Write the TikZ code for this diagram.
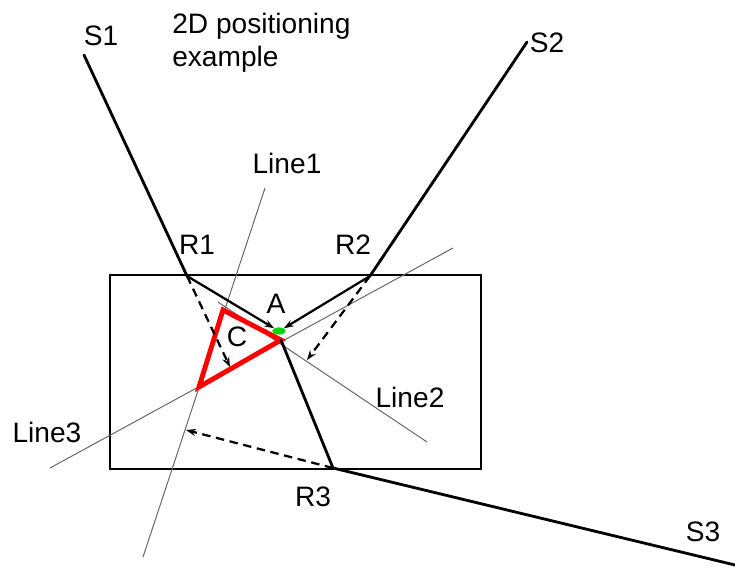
\documentclass[tikz,border=0pt]{standalone}
\usepackage{fontspec}
\setmainfont{Liberation Sans}
\usetikzlibrary{arrows.meta,positioning,shapes.geometric}

\begin{document}
\begin{tikzpicture}[
    x=0.025cm, y=-0.025cm,
    lbl/.style={font=\fontsize{20}{23.5}\selectfont, inner sep=0pt},
    ray/.style={line width=2pt, line cap=round},
    arr/.style={-{Stealth[length=7pt, width=5pt]}, line width=1.6pt},
    darr/.style={-{Stealth[length=7pt, width=5pt]}, line width=1.6pt, dash pattern=on 6pt off 4pt},
    fitline/.style={gray!80!black, line width=0.7pt},
]
  \useasboundingbox (0,0) rectangle (735,573);

  % Title
  \node[lbl, align=left, anchor=north west] (title) at (172,13) {2D positioning\\example};

  % Sources and receivers
  \coordinate (S1) at (84,55);
  \coordinate (S2) at (527,42);
  \coordinate (S3) at (735,565);
  \coordinate (R1) at (187,276);
  \coordinate (R2) at (370,276);
  \coordinate (R3) at (333,468);
  \node[lbl] (s1lbl) at (101,36) {S1};
  \node[lbl] (s2lbl) at (547,43) {S2};
  \node[lbl] (s3lbl) at (703,532) {S3};
  \node[lbl] (r1lbl) at (197,245) {R1};
  \node[lbl] (r2lbl) at (353,245) {R2};
  \node[lbl] (r3lbl) at (313,497) {R3};

  % Box
  \draw[line width=1.5pt] (110,275) rectangle (481,469);

  % Position estimate lines
  \coordinate (l1a) at (265,188);
  \coordinate (l1b) at (143,557);
  \coordinate (l2a) at (218,302);
  \coordinate (l2b) at (427,442);
  \coordinate (l3a) at (50,468);
  \coordinate (l3b) at (453,248);
  \draw[fitline] (l1a) -- (l1b);
  \draw[fitline] (l2a) -- (l2b);
  \draw[fitline] (l3a) -- (l3b);
  \node[lbl] (line1) at (287,163) {Line1};
  \node[lbl] (line2) at (410,397) {Line2};
  \node[lbl] (line3) at (47,432) {Line3};

  % Region C
  \coordinate (Ct) at (223,310);
  \coordinate (Cr) at (281,340);
  \coordinate (Cb) at (199,387);
  \draw[red, line width=3.5pt, line join=miter] (Ct) -- (Cr) -- (Cb) -- cycle;
  \node[lbl] (clbl) at (237,337) {C};

  % Point A
  \node[ellipse, fill=green!85!black, inner sep=0pt,
        minimum width=0.33cm, minimum height=0.18cm] (A) at (279,331) {};
  \node[lbl] (albl) at (276,304) {A};

  % Signal paths
  \draw[ray] (S1) -- (R1);
  \draw[ray] (S2) -- (R2);
  \draw[arr] (R1) -- (A.north west);
  \draw[arr] (R2) -- (A.north east);
  \draw[ray] (Cr) -- (R3) -- (S3);

  % Projections onto lines
  \coordinate (p1) at (230,367);
  \coordinate (p2) at (307,360);
  \coordinate (p3) at (186,430);
  \draw[darr] (R1) -- (p1);
  \draw[darr] (R2) -- (p2);
  \draw[darr] (R3) -- (p3);
\end{tikzpicture}
\end{document}
